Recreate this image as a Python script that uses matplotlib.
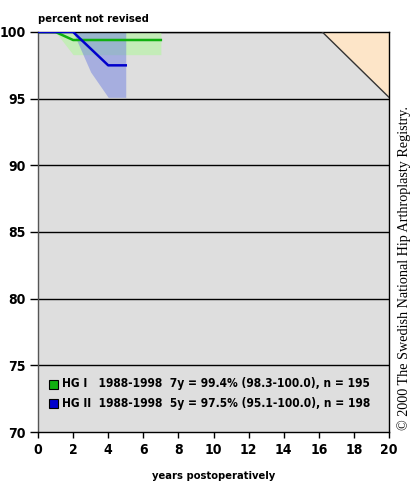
import matplotlib
matplotlib.use("Agg")
import matplotlib.pyplot as plt
from matplotlib.patches import Rectangle
from matplotlib import font_manager

# Данные: выживаемость протезов (процент без ревизии)
hg1_years = [0, 1, 2, 3, 4, 5, 6, 7]
hg1_surv = [100, 100, 99.4, 99.4, 99.4, 99.4, 99.4, 99.4]
hg1_low = [100, 100, 98.3, 98.3, 98.3, 98.3, 98.3, 98.3]
hg1_high = [100, 100, 100, 100, 100, 100, 100, 100]

hg2_years = [0, 1, 2, 3, 4, 5]
hg2_surv = [100, 100, 100, 98.75, 97.5, 97.5]
hg2_low = [100, 100, 100, 97.0, 95.1, 95.1]
hg2_high = [100, 100, 100, 100, 100, 100]

# треугольник в правом верхнем углу
tri_x = [16.2, 20, 20]
tri_y = [100, 100, 95.1]

legend_labels = [
    "HG I   1988-1998  7y = 99.4% (98.3-100.0), n = 195",
    "HG II  1988-1998  5y = 97.5% (95.1-100.0), n = 198",
]
x_ticks = list(range(0, 21, 2))
y_ticks = [70, 75, 80, 85, 90, 95, 100]

green = "#10b010"
blue = "#0000cc"

cond = {"family": "DejaVu Sans", "stretch": "condensed", "weight": "bold"}

fig = plt.figure(figsize=(4.11, 4.84), dpi=100)
ax = fig.add_axes([38 / 411, 1 - 432 / 484, 351 / 411, 400 / 484])
ax.set_facecolor("#dedede")
ax.set_xlim(0, 20)
ax.set_ylim(70, 100)

# горизонтальные линии сетки
for y in y_ticks[1:]:
    ax.axhline(y, color="black", lw=1.0, zorder=1)

ax.fill(tri_x, tri_y, facecolor="#fde5c8", edgecolor="none", zorder=2)
ax.plot([tri_x[0], tri_x[2]], [tri_y[0], tri_y[2]], color="#333333", lw=1.0, zorder=3)

ax.fill_between(hg1_years, hg1_low, hg1_high, color="#c4ecb8", lw=0, zorder=2)
ax.fill_between(hg2_years, hg2_low, hg2_high, color="#6f80e0", alpha=0.5, lw=0, zorder=2)
ax.plot(hg1_years, hg1_surv, color=green, lw=1.8, zorder=4)
ax.plot(hg2_years, hg2_surv, color=blue, lw=1.8, zorder=5)

ax.set_xticks(x_ticks)
ax.set_yticks(y_ticks)
ax.tick_params(axis="y", length=6, width=1.0, direction="out", pad=3)
ax.tick_params(axis="x", length=4, width=1.0, direction="out", pad=4)
for lab in ax.get_xticklabels() + ax.get_yticklabels():
    lab.set_fontproperties(font_manager.FontProperties(size=10, **cond))
for s in ax.spines.values():
    s.set_linewidth(1.0)
ax.spines["left"].set_color("#555555")

fig.text(38 / 411, 1 - 19 / 484, "percent not revised", fontsize=8,
         ha="left", va="center", **cond)
fig.text(214 / 411, 1 - 476 / 484, "years postoperatively", fontsize=8,
         ha="center", va="center", **cond)
fig.text(404 / 411, 1 - 268 / 484, "© 2000 The Swedish National Hip Arthroplasty Registry.",
         family=["Liberation Serif", "DejaVu Serif"], fontsize=10.2, rotation=90,
         ha="center", va="center")

# легенда
for i, (lab, col) in enumerate(zip(legend_labels, [green, blue])):
    yc = 1 - (384 + 19 * i) / 484
    fig.patches.append(Rectangle((49 / 411, yc - 4.5 / 484), 9 / 411, 9 / 484,
                                 transform=fig.transFigure, facecolor=col,
                                 edgecolor="black", lw=0.8, figure=fig))
    fig.text(62 / 411, yc, lab, fontsize=8.6, ha="left", va="center", **cond)

fig.savefig("out.png", dpi=100)
